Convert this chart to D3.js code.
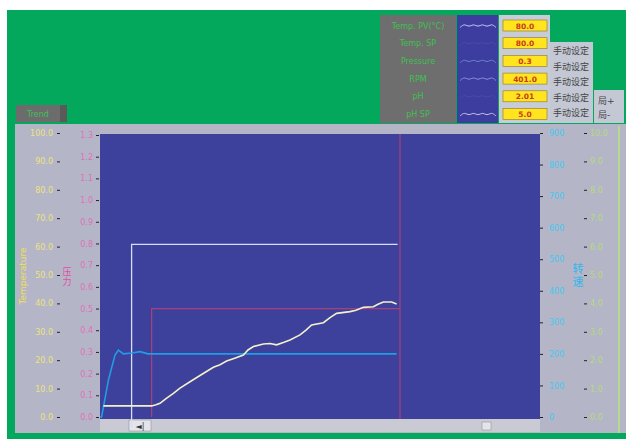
<!DOCTYPE html>
<html>
<head>
<meta charset="utf-8">
<script src="https://cdn.jsdelivr.net/npm/d3@7"></script>
<style>
  html, body { margin: 0; padding: 0; background: #fff; }
  svg { display: block; font-family: "DejaVu Sans", "Noto Sans CJK SC", sans-serif; }
</style>
</head>
<body>
<div id="chart"></div>
<script>
// Trend screen of a reactor controller (temperature / pressure / rpm)

// legend panel
const legendNames = ['Temp. PV(°C)', 'Temp. SP', 'Pressure', 'RPM', 'pH', 'pH SP'];
const legendValues = ['80.0', '80.0', '0.3', '401.0', '2.01', '5.0'];
const legendWave = ['#c8c8f0', '#4a4ab0', '#6a80d0', '#8890e0', '#4a4ab0', '#c0c0f0'];
const buttonLabels = ['手动设定', '手动设定', '手动设定', '手动设定', '手动设定'];
const zoomLabels = ['局+', '局-'];

// axis ticks
const tempTicks = d3.range(0, 101, 10);          // left, yellow
const pressTicks = d3.range(0, 14).map(d => d / 10); // left, pink
const rpmTicks = d3.range(0, 901, 100);           // right, cyan
const phTicks = d3.range(0, 11, 1);               // right, green

// series (time in minutes)
const pvTime = [1.7, 25.8, 28, 30, 33, 36.7, 40, 45, 50, 56.7, 60, 63.3, 67, 71.7, 74, 76.7, 81.7, 85, 88.3, 92, 95, 100, 103, 105.8, 111.7, 115, 118.3, 125, 128, 131.7, 136.7, 139, 141.7, 145.8, 148.3];
const pvTemp = [3.9, 3.9, 4.3, 4.8, 6.5, 8.3, 10.2, 12.4, 14.6, 17.5, 18.4, 19.7, 20.6, 21.8, 23.6, 24.8, 25.7, 25.9, 25.4, 26.3, 27.1, 28.9, 30.6, 32.4, 33.2, 35.0, 36.5, 37.1, 37.6, 38.6, 38.8, 39.7, 40.5, 40.5, 39.8];
const spTime = [15.8, 15.8, 148.8];
const spTemp = [0, 60.8, 60.8];
const prTime = [25.8, 25.8, 150];
const prValue = [0, 0.5, 0.5];
const rpmTime = [0, 0.8, 4.2, 7.5, 9.2, 11.7, 16, 20, 24, 148.3];
const rpmValue = [0, 0, 117, 196, 212, 200, 203, 207, 200, 200];
const cursorTime = 150;

const W = 626, H = 439;
const svg = d3.select('#chart').append('svg').attr('width', W).attr('height', H);

// background panels
svg.append('rect').attr('x', 7).attr('y', 10).attr('width', W - 7).attr('height', H - 10).attr('fill', '#04a85c');
svg.append('rect').attr('x', 15).attr('y', 124).attr('width', W - 15).attr('height', 309).attr('fill', '#b5b5c8');
svg.append('line').attr('x1', 619).attr('x2', 619).attr('y1', 126).attr('y2', 433)
    .attr('stroke', '#b8d890').attr('stroke-width', 2);

// top-left tag
svg.append('rect').attr('x', 16).attr('y', 105).attr('width', 51).attr('height', 17).attr('fill', '#6c6c6c');
svg.append('rect').attr('x', 60).attr('y', 105).attr('width', 7).attr('height', 17).attr('fill', '#5a5a5a');
svg.append('text').attr('x', 38).attr('y', 117).attr('text-anchor', 'middle')
    .attr('font-size', 8).attr('fill', '#3cc05a').text('Trend');

// legend backgrounds
const rowY = i => 25.5 + i * 17.7;
svg.append('rect').attr('x', 380).attr('y', 15).attr('width', 76).attr('height', 108).attr('fill', '#6e6e6e');
svg.append('rect').attr('x', 457).attr('y', 15).attr('width', 41).attr('height', 108).attr('fill', '#3c3d9e');
svg.append('rect').attr('x', 499).attr('y', 15).attr('width', 51).attr('height', 108).attr('fill', '#c8ccd8');
svg.append('rect').attr('x', 550).attr('y', 42).attr('width', 43).attr('height', 81).attr('fill', '#c4c8d4');
svg.append('rect').attr('x', 594).attr('y', 90).attr('width', 30).attr('height', 33).attr('fill', '#c4c8d4');

const leg = svg.append('g');
leg.selectAll('text.name').data(legendNames).join('text')
    .attr('class', 'name')
    .attr('x', 418).attr('y', (d, i) => rowY(i) + 3)
    .attr('text-anchor', 'middle').attr('font-size', 8).attr('fill', '#40c050')
    .text(d => d);

const wave = d3.line().curve(d3.curveBasis);
leg.selectAll('path.wave').data(legendWave).join('path')
    .attr('class', 'wave')
    .attr('d', (d, i) => wave(d3.range(0, 9).map(k => [460 + k * 4.5, rowY(i) + (k % 2 ? -2 : 2)])))
    .attr('fill', 'none').attr('stroke', d => d).attr('stroke-width', 1);

leg.selectAll('rect.val').data(legendValues).join('rect')
    .attr('class', 'val')
    .attr('x', 503).attr('y', (d, i) => rowY(i) - 5.5)
    .attr('width', 44).attr('height', 11)
    .attr('fill', '#ffe41e').attr('stroke', '#8a7a20').attr('stroke-width', 0.6);
leg.selectAll('text.val').data(legendValues).join('text')
    .attr('class', 'val')
    .attr('x', 525).attr('y', (d, i) => rowY(i) + 3)
    .attr('text-anchor', 'middle').attr('font-size', 7.5).attr('font-weight', 'bold').attr('fill', '#c83a1c')
    .text(d => d);

leg.selectAll('text.btn').data(buttonLabels).join('text')
    .attr('class', 'btn')
    .attr('x', 571).attr('y', (d, i) => 54 + i * 15.5)
    .attr('text-anchor', 'middle').attr('font-size', 9).attr('fill', '#444')
    .text(d => d);
leg.selectAll('text.zoom').data(zoomLabels).join('text')
    .attr('class', 'zoom')
    .attr('x', 598).attr('y', (d, i) => 104 + i * 14)
    .attr('font-size', 9).attr('fill', '#444')
    .text(d => d);

// plot area
const plot = { left: 100, right: 540, top: 134, bottom: 419 };
svg.append('rect').attr('x', plot.left).attr('y', plot.top)
    .attr('width', plot.right - plot.left).attr('height', plot.bottom - plot.top)
    .attr('fill', '#3e419b');

// scrollbar
svg.append('rect').attr('x', plot.left).attr('y', 419).attr('width', plot.right - plot.left).attr('height', 13).attr('fill', '#c9cad4');
svg.append('rect').attr('x', 129).attr('y', 420).attr('width', 22).attr('height', 11).attr('fill', '#e4e4ec').attr('stroke', '#888').attr('stroke-width', 0.5);
svg.append('text').attr('x', 140).attr('y', 429).attr('text-anchor', 'middle').attr('font-size', 8).attr('fill', '#333').text('◄|');
svg.append('rect').attr('x', 482).attr('y', 422).attr('width', 9).attr('height', 8).attr('fill', '#e4e4ec').attr('stroke', '#888').attr('stroke-width', 0.5);

// scales
const x = d3.scaleLinear().domain([0, 220]).range([plot.left, plot.right]);
const yT = d3.scaleLinear().domain([0, 100]).range([417, 133]);
const yP = d3.scaleLinear().domain([0, 1.3]).range([417, 135]);
const yR = d3.scaleLinear().domain([0, 900]).range([417, 133]);
const yH = d3.scaleLinear().domain([0, 10]).range([417, 133]);

// axes
function styleAxis(g, color) {
    g.select('.domain').remove();
    g.selectAll('.tick line').attr('stroke', '#222').attr('stroke-width', 1);
    g.selectAll('.tick text').attr('fill', color).attr('font-size', 8)
        .attr('font-family', '"DejaVu Sans", sans-serif');
}
svg.append('g').attr('transform', 'translate(60,0)')
    .call(d3.axisLeft(yT).tickValues(tempTicks).tickSize(3).tickPadding(4).tickFormat(d3.format('.1f')))
    .call(g => styleAxis(g, '#ece47a'));
svg.append('g').attr('transform', 'translate(99,0)')
    .call(d3.axisLeft(yP).tickValues(pressTicks).tickSize(3).tickPadding(3).tickFormat(d3.format('.1f')))
    .call(g => styleAxis(g, '#e070b8'));
svg.append('g').attr('transform', `translate(${plot.right},0)`)
    .call(d3.axisRight(yR).tickValues(rpmTicks).tickSize(3).tickPadding(6).tickFormat(d3.format('d')))
    .call(g => styleAxis(g, '#44c8ee'));
svg.append('g').attr('transform', 'translate(584,0)')
    .call(d3.axisRight(yH).tickValues(phTicks).tickSize(3).tickPadding(3).tickFormat(d3.format('.1f')))
    .call(g => styleAxis(g, '#b4dc7c'));

// axis titles
svg.append('text').attr('transform', 'translate(26,276) rotate(-90)')
    .attr('text-anchor', 'middle').attr('font-size', 9).attr('fill', '#f0e050').text('Temperature');
svg.append('text').attr('x', 67).attr('y', 275).attr('text-anchor', 'middle')
    .attr('font-size', 9).attr('fill', '#e050a8')
    .selectAll('tspan').data(['压', '力']).join('tspan')
    .attr('x', 67).attr('dy', (d, i) => i ? 10 : 0).text(d => d);
svg.append('text').attr('x', 578).attr('y', 273).attr('text-anchor', 'middle')
    .attr('font-size', 11).attr('fill', '#2cb8ec')
    .selectAll('tspan').data(['转', '速']).join('tspan')
    .attr('x', 578).attr('dy', (d, i) => i ? 13 : 0).text(d => d);

// series
const clip = svg.append('defs').append('clipPath').attr('id', 'plot-clip');
clip.append('rect').attr('x', plot.left).attr('y', plot.top)
    .attr('width', plot.right - plot.left).attr('height', plot.bottom - plot.top + 8);
const lines = svg.append('g').attr('clip-path', 'url(#plot-clip)');

const pair = (ts, vs) => ts.map((t, i) => [t, vs[i]]);

lines.append('line')
    .attr('x1', x(cursorTime)).attr('x2', x(cursorTime))
    .attr('y1', plot.top).attr('y2', plot.bottom)
    .attr('stroke', '#a8407c').attr('stroke-width', 1.2);

lines.append('path')
    .attr('d', d3.line().x(d => x(d[0])).y(d => yP(d[1]))(pair(prTime, prValue)))
    .attr('fill', 'none').attr('stroke', '#a8407c').attr('stroke-width', 1.2);

lines.append('path')
    .attr('d', d3.line().x(d => x(d[0])).y(d => yT(d[1]) + (d[1] === 0 ? 10 : 0))(pair(spTime, spTemp)))
    .attr('fill', 'none').attr('stroke', '#d8dcff').attr('stroke-width', 1.3);

lines.append('path')
    .attr('d', d3.line().x(d => x(d[0])).y(d => yR(d[1]))(pair(rpmTime, rpmValue)))
    .attr('fill', 'none').attr('stroke', '#1e9ee6').attr('stroke-width', 1.6);

lines.append('path')
    .attr('d', d3.line().x(d => x(d[0])).y(d => yT(d[1]))(pair(pvTime, pvTemp)))
    .attr('fill', 'none').attr('stroke', '#f4f0cc').attr('stroke-width', 1.6);
</script>
</body>
</html>
